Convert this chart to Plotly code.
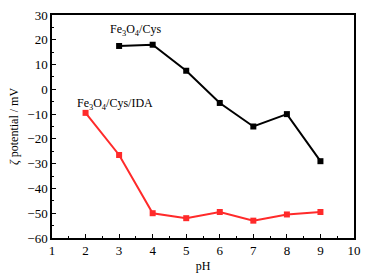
import plotly.graph_objects as go

ph_cys = [3, 4, 5, 6, 7, 8, 9]
zeta_cys = [17.5, 18, 7.5, -5.5, -15, -10, -29]
ph_ida = [2, 3, 4, 5, 6, 7, 8, 9]
zeta_ida = [-9.5, -26.5, -50, -52, -49.5, -53, -50.5, -49.5]
x_ticks = list(range(1, 11))
y_ticks = list(range(-60, 31, 10))

font = "Liberation Serif, Times New Roman, serif"

fig = go.Figure()
fig.add_trace(go.Scatter(x=ph_cys, y=zeta_cys, mode="lines+markers",
                         line=dict(color="black", width=2),
                         marker=dict(symbol="square", size=6, color="black")))
fig.add_trace(go.Scatter(x=ph_ida, y=zeta_ida, mode="lines+markers",
                         line=dict(color="#ff2a2a", width=2),
                         marker=dict(symbol="square", size=6, color="#ff2a2a")))

fig.add_annotation(x=3.5, y=23.8, text="Fe<sub>3</sub>O<sub>4</sub>/Cys", showarrow=False,
                   font=dict(family=font, size=12, color="black"))
fig.add_annotation(x=2.88, y=-5.8, text="Fe<sub>3</sub>O<sub>4</sub>/Cys/IDA", showarrow=False,
                   font=dict(family=font, size=12, color="black"))

axis_common = dict(showline=True, linecolor="black", linewidth=1.5, mirror=True,
                   ticks="inside", ticklen=4, tickwidth=1.2, tickcolor="black",
                   showgrid=False, zeroline=False, automargin=False,
                   tickfont=dict(family=font, size=13, color="black"),
                   minor=dict(ticks="inside", ticklen=2, tickcolor="black", tickwidth=1))

fig.update_xaxes(range=[1, 10], tickvals=x_ticks, title=dict(text="pH", standoff=4,
                 font=dict(family=font, size=12, color="black")), **axis_common)
fig.update_yaxes(range=[-60, 30], tickvals=y_ticks,
                 ticktext=[("\u2212" + str(-v)) if v < 0 else str(v) for v in y_ticks],
                 title=dict(text="<i>ζ</i> potential / mV", standoff=6,
                            font=dict(family=font, size=12, color="black")), **axis_common)

fig.update_layout(width=367, height=278, showlegend=False,
                  margin=dict(l=52, r=13, t=15, b=40),
                  plot_bgcolor="white", paper_bgcolor="white")
fig.write_html("out.html", config={"displayModeBar": False},
               post_script="document.body.style.margin='0';document.body.style.padding='0';")
